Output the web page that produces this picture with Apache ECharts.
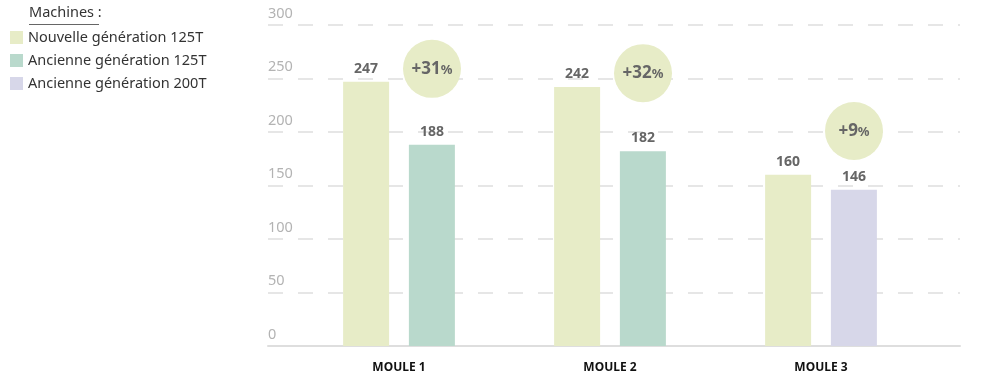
<!DOCTYPE html>
<html><head><meta charset="utf-8">
<script src="https://cdn.jsdelivr.net/npm/echarts@6/dist/echarts.min.js"></script>
<style>html,body{margin:0;padding:0;background:#fff}#c{width:1000px;height:384px}</style>
</head><body><div id="c"></div>
<script>
const categories = ['MOULE 1', 'MOULE 2', 'MOULE 3'];
const seriesNames = ['Nouvelle génération 125T', 'Ancienne génération 125T', 'Ancienne génération 200T'];
const nouvelle125 = [247, 242, 160];
const ancienne125 = [188, 182, null];
const ancienne200 = [null, null, 146];
const gainLabels = ['+31', '+32', '+9'];
const gainBubbleY = [259, 255, 201];
const yTicks = [0, 50, 100, 150, 200, 250, 300];
const legendTitle = 'Machines';

const FONT = 'Noto Sans';
const chart = echarts.init(document.getElementById('c'));
const barLabel = {show: true, position: 'top', distance: 6, fontFamily: FONT, fontSize: 14, fontWeight: 'bold', color: '#666'};
chart.setOption({
  animation: false,
  textStyle: {fontFamily: FONT},
  legend: {
    left: 5, top: 25, orient: 'vertical', itemWidth: 13, itemHeight: 13, itemGap: 8,
    icon: 'rect', data: seriesNames,
    textStyle: {fontFamily: FONT, fontSize: 14.5, color: '#333'}
  },
  graphic: [
    {type: 'text', left: 29, top: 5, style: {text: legendTitle + ' :', font: '14.5px "Noto Sans"', fill: '#333'}},
    {type: 'rect', left: 29, top: 24, shape: {width: 70, height: 1}, style: {fill: '#666'}}
  ],
  grid: [
    {left: 268, right: 40, top: 25, bottom: 38},
    {left: 293.5, right: 73.5, top: 25, bottom: 38}
  ],
  xAxis: [
    {gridIndex: 0, type: 'category', data: categories, show: true,
     axisLine: {show: true, lineStyle: {color: '#dedede', width: 2}}, axisTick: {show: false}, axisLabel: {show: false}},
    {gridIndex: 1, type: 'category', data: categories,
     axisLine: {show: false}, axisTick: {show: false},
     axisLabel: {fontFamily: FONT, fontSize: 12, fontWeight: 'bold', color: '#111', margin: 16}}
  ],
  yAxis: [
    {gridIndex: 0, type: 'value', min: 0, max: 300, interval: 50,
     axisLine: {show: false}, axisTick: {show: false},
     axisLabel: {inside: true, margin: 0, align: 'left', verticalAlign: 'bottom', padding: [0, 0, 4, 0],
       fontFamily: FONT, fontSize: 14.5, color: '#b3b3b3',
       formatter: v => yTicks.includes(v) ? String(v) : ''},
     splitLine: {show: true, lineStyle: {color: '#e6e6e6', width: 2, type: [15, 15]}}},
    {gridIndex: 1, type: 'value', min: 0, max: 300, interval: 50, show: false, splitLine: {show: false}}
  ],
  series: [
    {name: seriesNames[0], type: 'bar', xAxisIndex: 1, yAxisIndex: 1, data: nouvelle125,
     barWidth: 46, barGap: '43%', itemStyle: {color: '#e7ecc7'}, label: barLabel},
    {name: seriesNames[1], type: 'bar', xAxisIndex: 1, yAxisIndex: 1, data: ancienne125, stack: 'old',
     barWidth: 46, itemStyle: {color: '#b9d9cc'}, label: barLabel},
    {name: seriesNames[2], type: 'bar', xAxisIndex: 1, yAxisIndex: 1, data: ancienne200, stack: 'old',
     barWidth: 46, itemStyle: {color: '#d7d7e9'}, label: barLabel},
    {type: 'scatter', xAxisIndex: 1, yAxisIndex: 1, symbol: 'circle', symbolSize: 58, symbolOffset: [33, 0],
     itemStyle: {color: '#e7ecc7', opacity: 1}, silent: true, z: 5,
     data: gainBubbleY.map((y, i) => ({value: [i, y], name: gainLabels[i]})),
     label: {show: true, position: 'inside',
       formatter: p => '{a|' + p.name + '}{b|%}',
       rich: {a: {fontFamily: FONT, fontSize: 17, fontWeight: 'bold', color: '#666'},
              b: {fontFamily: FONT, fontSize: 13, fontWeight: 'bold', color: '#666', padding: [3, 0, 0, 0]}}}}
  ]
});
</script></body></html>
